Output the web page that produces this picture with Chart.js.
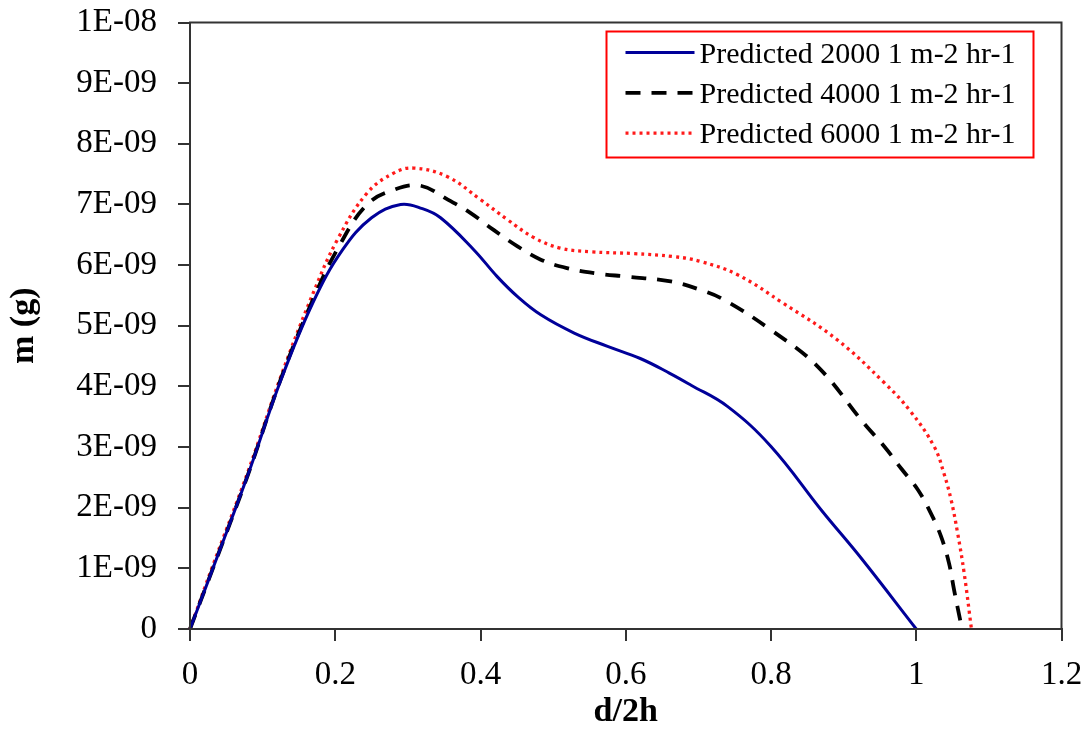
<!DOCTYPE html>
<html>
<head>
<meta charset="utf-8">
<script src="https://cdn.jsdelivr.net/npm/chart.js@4.4.1/dist/chart.umd.min.js"></script>
<style>
html,body{margin:0;padding:0;background:#fff;}
#wrap{width:1091px;height:733px;}
</style>
</head>
<body>
<div id="wrap"><canvas id="c" width="1091" height="733"></canvas></div>
<script>
// ---- data ----
const seriesLabels = ["Predicted 2000 1 m-2 hr-1", "Predicted 4000 1 m-2 hr-1", "Predicted 6000 1 m-2 hr-1"];

const series2000X = [0, 0.03, 0.08, 0.125, 0.17, 0.21, 0.25, 0.29, 0.32, 0.345, 0.391, 0.423, 0.451, 0.483, 0.529, 0.575, 0.62, 0.66, 0.69, 0.74, 0.8, 0.87, 0.924, 1.0];
const series2000Y = [0, 0.95e-9, 2.55e-9, 4.1e-9, 5.4e-9, 6.25e-9, 6.78e-9, 7.0e-9, 6.93e-9, 6.78e-9, 6.25e-9, 5.81e-9, 5.48e-9, 5.18e-9, 4.88e-9, 4.66e-9, 4.46e-9, 4.22e-9, 4.02e-9, 3.67e-9, 3.01e-9, 1.95e-9, 1.17e-9, 0];

const series4000X = [0, 0.03, 0.08, 0.125, 0.17, 0.207, 0.244, 0.28, 0.317, 0.355, 0.386, 0.418, 0.451, 0.483, 0.519, 0.561, 0.602, 0.662, 0.703, 0.735, 0.8, 0.864, 0.928, 0.956, 0.979, 1.002, 1.02, 1.034, 1.045, 1.052, 1.063];
const series4000Y = [0, 0.95e-9, 2.55e-9, 4.12e-9, 5.45e-9, 6.35e-9, 7.0e-9, 7.24e-9, 7.31e-9, 7.08e-9, 6.86e-9, 6.58e-9, 6.31e-9, 6.09e-9, 5.95e-9, 5.86e-9, 5.81e-9, 5.73e-9, 5.59e-9, 5.43e-9, 4.93e-9, 4.33e-9, 3.39e-9, 3.01e-9, 2.65e-9, 2.3e-9, 1.91e-9, 1.53e-9, 1.09e-9, 0.65e-9, 0];

const series6000X = [0, 0.03, 0.08, 0.125, 0.17, 0.203, 0.244, 0.281, 0.308, 0.354, 0.4, 0.437, 0.474, 0.51, 0.552, 0.611, 0.666, 0.703, 0.754, 0.817, 0.891, 0.956, 0.992, 1.025, 1.038, 1.048, 1.057, 1.066, 1.076];
const series6000Y = [0, 1.0e-9, 2.6e-9, 4.16e-9, 5.55e-9, 6.42e-9, 7.19e-9, 7.52e-9, 7.6e-9, 7.46e-9, 7.08e-9, 6.75e-9, 6.45e-9, 6.28e-9, 6.22e-9, 6.19e-9, 6.14e-9, 6.06e-9, 5.84e-9, 5.37e-9, 4.77e-9, 4.06e-9, 3.59e-9, 3.0e-9, 2.57e-9, 2.13e-9, 1.58e-9, 0.92e-9, 0];

const xTickValues = [0, 0.2, 0.4, 0.6, 0.8, 1.0, 1.2];
const xTickLabels = ["0", "0.2", "0.4", "0.6", "0.8", "1", "1.2"];
const yTickValues = [0, 1e-9, 2e-9, 3e-9, 4e-9, 5e-9, 6e-9, 7e-9, 8e-9, 9e-9, 1e-8];
const yTickLabels = ["0", "1E-09", "2E-09", "3E-09", "4E-09", "5E-09", "6E-09", "7E-09", "8E-09", "9E-09", "1E-08"];

const xTitle = "d/2h";
const yTitle = "m (g)";

// ---- chart ----
const FONT = "'Liberation Serif', 'Times New Roman', serif";
const AXIS = '#333333';

function pts(xs, ys) { return xs.map((x, i) => ({x: x, y: ys[i]})); }

const styles = [
  {color: '#000099', width: 3, dash: []},
  {color: '#000000', width: 3.8, dash: [15, 11]},
  {color: '#FF1a1a', width: 3.3, dash: [3, 4]}
];

const datasets = [
  [series2000X, series2000Y],
  [series4000X, series4000Y],
  [series6000X, series6000Y]
].map((s, i) => ({
  label: seriesLabels[i],
  data: pts(s[0], s[1]),
  showLine: true,
  borderColor: styles[i].color,
  backgroundColor: styles[i].color,
  borderWidth: styles[i].width,
  borderDash: styles[i].dash,
  borderCapStyle: 'butt',
  pointRadius: 0,
  pointHoverRadius: 0,
  tension: 0.4,
  fill: false,
  clip: false
}));

const frameAndLegend = {
  id: 'frameAndLegend',
  afterDatasetsDraw(chart) {
    const ctx = chart.ctx;
    const a = chart.chartArea;
    ctx.save();
    // plot frame
    ctx.strokeStyle = AXIS;
    ctx.lineWidth = 2;
    ctx.setLineDash([]);
    ctx.strokeRect(a.left, a.top, a.right - a.left, a.bottom - a.top);

    // legend box
    ctx.font = "30px " + FONT;
    let tw = 0;
    chart.data.datasets.forEach(d => { tw = Math.max(tw, ctx.measureText(d.label).width); });
    const padL = 19, lineW = 69, gap = 5, padR = 18;
    const w = padL + lineW + gap + tw + padR;
    const h = 126;
    const right = a.right - 28;
    const x0 = right - w, y0 = a.top + 9;
    ctx.fillStyle = '#ffffff';
    ctx.fillRect(x0, y0, w, h);
    ctx.strokeStyle = '#FF0000';
    ctx.lineWidth = 2;
    ctx.strokeRect(x0, y0, w, h);
    chart.data.datasets.forEach((d, i) => {
      const base = y0 + 31 + i * 40.3;
      const ly = base - 10;
      ctx.beginPath();
      ctx.strokeStyle = d.borderColor;
      ctx.lineWidth = d.borderWidth;
      ctx.setLineDash(d.borderDash || []);
      ctx.lineCap = 'butt';
      ctx.moveTo(x0 + padL, ly);
      ctx.lineTo(x0 + padL + lineW, ly);
      ctx.stroke();
      ctx.setLineDash([]);
      ctx.fillStyle = '#000000';
      ctx.textBaseline = 'alphabetic';
      ctx.textAlign = 'left';
      ctx.fillText(d.label, x0 + padL + lineW + gap, base);
    });
    ctx.restore();
  }
};

new Chart(document.getElementById('c'), {
  type: 'scatter',
  data: {datasets: datasets},
  options: {
    responsive: false,
    animation: false,
    events: [],
    layout: {padding: {top: 22.5, right: 29.5, left: 0, bottom: 0}},
    plugins: {legend: {display: false}, tooltip: {enabled: false}},
    scales: {
      x: {
        type: 'linear',
        min: 0, max: 1.2,
        afterBuildTicks: s => { s.ticks = xTickValues.map(v => ({value: v})); },
        afterFit: s => { s.height = 104; s.paddingLeft = 0; s.paddingRight = 0; },
        ticks: {
          autoSkip: false,
          maxRotation: 0,
          padding: 15,
          color: '#000',
          font: {family: FONT, size: 33},
          callback: (v, i) => xTickLabels[i]
        },
        grid: {drawOnChartArea: false, drawTicks: true, tickLength: 12, color: AXIS, lineWidth: 2},
        border: {color: AXIS, width: 2},
        title: {display: true, text: xTitle, color: '#000', font: {family: FONT, size: 34, weight: 'bold'}, padding: {top: 0, bottom: 0}}
      },
      y: {
        type: 'linear',
        min: 0, max: 1e-8,
        afterBuildTicks: s => { s.ticks = yTickValues.map(v => ({value: v})); },
        afterFit: s => { s.width = 190; s.paddingTop = 0; s.paddingBottom = 0; },
        ticks: {
          autoSkip: false,
          padding: 21,
          color: '#000',
          font: {family: FONT, size: 33},
          callback: (v, i) => yTickLabels[i]
        },
        grid: {drawOnChartArea: false, drawTicks: true, tickLength: 12, color: AXIS, lineWidth: 2},
        border: {color: AXIS, width: 2},
        title: {display: true, text: yTitle, color: '#000', font: {family: FONT, size: 34, weight: 'bold'}, padding: {top: 4, bottom: 0}}
      }
    }
  },
  plugins: [frameAndLegend]
});
</script>
</body>
</html>
